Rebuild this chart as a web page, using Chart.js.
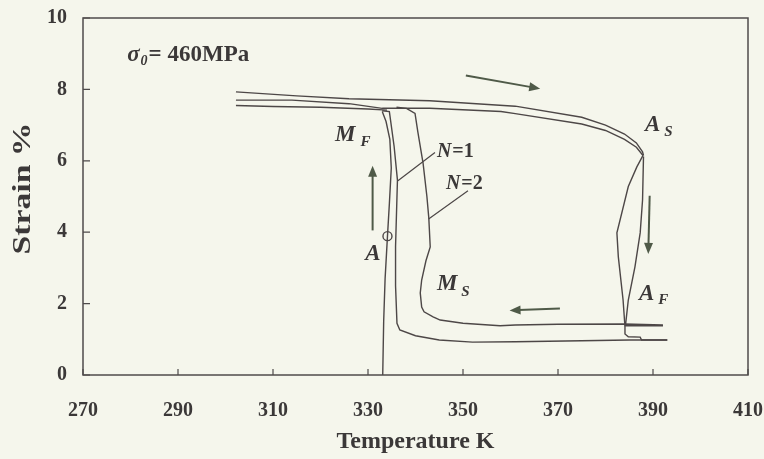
<!DOCTYPE html>
<html>
<head>
<meta charset="utf-8">
<script src="https://cdn.jsdelivr.net/npm/chart.js@4.4.1/dist/chart.umd.min.js"></script>
<style>
  html, body { margin: 0; padding: 0; background: #f5f6ec; }
  #wrap { width: 764px; height: 459px; }
</style>
</head>
<body>
<div id="wrap"><canvas id="c" width="764" height="459"></canvas></div>
<script>
// ---- data (Temperature K, Strain %) ----
const xTicks = [270, 290, 310, 330, 350, 370, 390, 410];
const yTicks = [0, 2, 4, 6, 8, 10];

const loadT = [333.1, 333.3, 333.6, 334.1, 334.5, 334.9, 334.6, 333.8, 333.0];
const loadS = [0.0, 1.5, 2.7, 3.89, 4.8, 5.8, 6.6, 7.1, 7.38];

const topUpperT = [302.2, 315, 326, 343, 361, 375, 380, 384, 386.5, 387.8, 388.0];
const topUpperS = [7.93, 7.82, 7.74, 7.68, 7.53, 7.22, 7.00, 6.75, 6.50, 6.25, 6.15];

const topLowerT = [302.2, 314, 326, 333, 343, 358, 361, 375, 380, 384, 386.5, 387.9];
const topLowerS = [7.70, 7.70, 7.60, 7.47, 7.47, 7.38, 7.32, 7.03, 6.85, 6.60, 6.38, 6.15];

const topThirdT = [302.2, 310, 320, 330, 334];
const topThirdS = [7.55, 7.52, 7.50, 7.45, 7.42];

const drop1T = [387.9, 386.6, 384.8, 382.4, 382.7, 383.7, 384.1, 384.1, 384.8, 387.3, 387.6, 393.0];
const drop1S = [6.15, 5.83, 5.28, 3.98, 3.31, 2.10, 1.35, 1.15, 1.07, 1.06, 0.98, 0.98];

const drop2T = [388.0, 387.8, 387.3, 386.2, 384.8, 384.3, 384.2, 392.1];
const drop2S = [6.12, 4.90, 3.98, 3.03, 2.10, 1.50, 1.38, 1.38];

const cool1T = [393.0, 385, 375, 361, 352, 345, 340, 336.7, 336.1, 335.8, 335.8, 336.2, 335.5, 334.5, 333.0];
const cool1S = [0.98, 0.98, 0.96, 0.93, 0.92, 0.98, 1.10, 1.26, 1.45, 2.50, 3.60, 5.46, 6.40, 7.38, 7.40];

const cool2T = [392.1, 384, 370, 361, 357.8, 350, 345.2, 343.7, 341.8, 341.3, 341.0, 341.3, 342.2, 343.1, 342.8, 342.4, 341.6, 340.5, 339.9, 338.1, 336.0];
const cool2S = [1.40, 1.43, 1.42, 1.40, 1.38, 1.45, 1.54, 1.63, 1.77, 1.90, 2.30, 2.66, 3.20, 3.59, 4.40, 5.00, 5.93, 6.80, 7.33, 7.47, 7.50];

const pointA_T = [334.1];
const pointA_S = [3.89];

// ---- helpers ----
const LINE = '#4d4747';
const TXT = '#3b3838';
const ARROW = '#4f5a48';
const SERIF = '"Liberation Serif", "Times New Roman", serif';

function pts(xs, ys) { return xs.map((x, i) => ({ x: x, y: ys[i] })); }
function line(xs, ys) {
  return { data: pts(xs, ys), showLine: true, borderColor: LINE, borderWidth: 1.4,
           pointRadius: 0, fill: false, tension: 0 };
}

const bgPlugin = {
  id: 'bg',
  beforeDraw(chart) {
    const ctx = chart.ctx;
    ctx.save();
    ctx.fillStyle = '#f5f6ec';
    ctx.fillRect(0, 0, chart.width, chart.height);
    ctx.restore();
  }
};

const framePlugin = {
  id: 'frame',
  afterDraw(chart) {
    const { ctx, chartArea: a, scales } = chart;
    ctx.save();
    ctx.strokeStyle = '#4f4b4b';
    ctx.lineWidth = 1.5;
    ctx.strokeRect(a.left, a.top, a.right - a.left, a.bottom - a.top);
    ctx.lineWidth = 1.2;
    ctx.beginPath();
    xTicks.forEach(v => {
      const px = scales.x.getPixelForValue(v);
      ctx.moveTo(px, a.bottom); ctx.lineTo(px, a.bottom - 6);
    });
    yTicks.forEach(v => {
      const py = scales.y.getPixelForValue(v);
      ctx.moveTo(a.left, py); ctx.lineTo(a.left + 7, py);
    });
    ctx.stroke();

    // y-axis title (stretched along its length like the reference)
    ctx.fillStyle = TXT;
    ctx.font = 'bold 25px ' + SERIF;
    ctx.textAlign = 'center';
    ctx.textBaseline = 'middle';
    ctx.translate(24, (a.top + a.bottom) / 2 - 8);
    ctx.rotate(-Math.PI / 2);
    ctx.scale(1.35, 1);
    ctx.fillText('Strain %', 0, 0);
    ctx.restore();
  }
};

const annoPlugin = {
  id: 'anno',
  afterDatasetsDraw(chart) {
    const { ctx, scales } = chart;
    const X = v => scales.x.getPixelForValue(v);
    const Y = v => scales.y.getPixelForValue(v);
    ctx.save();
    ctx.fillStyle = TXT;
    ctx.textBaseline = 'alphabetic';
    ctx.textAlign = 'left';

    // sigma label
    let x = X(279.3), y = Y(8.80);
    ctx.font = 'italic bold 23px ' + SERIF;
    ctx.fillText('σ', x, y);
    x += ctx.measureText('σ').width + 1;
    ctx.font = 'italic bold 14px ' + SERIF;
    ctx.fillText('0', x, y + 4);
    x += ctx.measureText('0').width + 1;
    ctx.font = 'bold 23px ' + SERIF;
    ctx.fillText('= 460MPa', x, y);

    function sub(main, s, T, S, dx, dy) {
      const px = X(T), py = Y(S);
      ctx.font = 'italic bold 23px ' + SERIF;
      ctx.fillText(main, px, py);
      const w = ctx.measureText(main).width;
      ctx.font = 'italic bold 15px ' + SERIF;
      ctx.fillText(s, px + w + dx, py + dy);
    }
    sub('M', 'F', 323.05, 6.55, 5, 5);
    sub('A', 'S', 388.3, 6.83, 4, 5);
    sub('M', 'S', 344.5, 2.38, 4, 6);
    sub('A', 'F', 387.05, 2.10, 4, 4);

    ctx.font = 'italic bold 23px ' + SERIF;
    ctx.fillText('A', X(329.4), Y(3.22));

    function nlab(n, T, S) {
      const px = X(T), py = Y(S);
      ctx.font = 'italic bold 20px ' + SERIF;
      ctx.fillText('N', px, py);
      const w = ctx.measureText('N').width;
      ctx.font = 'bold 20px ' + SERIF;
      ctx.fillText('=' + n, px + w + 1, py);
    }
    nlab('1', 344.5, 6.11);
    nlab('2', 346.4, 5.21);

    // leader lines
    ctx.strokeStyle = LINE;
    ctx.lineWidth = 1.2;
    ctx.beginPath();
    ctx.moveTo(X(344.1), Y(6.23)); ctx.lineTo(X(336.3), Y(5.44));
    ctx.moveTo(X(351.05), Y(5.16)); ctx.lineTo(X(342.76), Y(4.37));
    ctx.stroke();

    // arrows
    function arrow(T1, S1, T2, S2) {
      const x1 = X(T1), y1 = Y(S1), x2 = X(T2), y2 = Y(S2);
      const ang = Math.atan2(y2 - y1, x2 - x1);
      const L = 11, W = 4.5;
      ctx.strokeStyle = ARROW;
      ctx.fillStyle = ARROW;
      ctx.lineWidth = 2;
      ctx.beginPath();
      ctx.moveTo(x1, y1);
      ctx.lineTo(x2 - Math.cos(ang) * (L - 2), y2 - Math.sin(ang) * (L - 2));
      ctx.stroke();
      ctx.beginPath();
      ctx.moveTo(x2, y2);
      ctx.lineTo(x2 - Math.cos(ang) * L - Math.sin(ang) * W, y2 - Math.sin(ang) * L + Math.cos(ang) * W);
      ctx.lineTo(x2 - Math.cos(ang) * L + Math.sin(ang) * W, y2 - Math.sin(ang) * L - Math.cos(ang) * W);
      ctx.closePath();
      ctx.fill();
    }
    arrow(350.6, 8.39, 366.25, 8.02);
    arrow(330.97, 4.05, 330.97, 5.86);
    arrow(389.3, 5.02, 389.0, 3.39);
    arrow(370.4, 1.86, 359.8, 1.81);
    ctx.restore();
  }
};

const datasets = [
  line(loadT, loadS),
  line(topUpperT, topUpperS),
  line(topLowerT, topLowerS),
  line(topThirdT, topThirdS),
  line(drop1T, drop1S),
  line(drop2T, drop2S),
  line(cool1T, cool1S),
  line(cool2T, cool2S),
  { data: pts(pointA_T, pointA_S), showLine: false, pointRadius: 4.5,
    pointBackgroundColor: '#f5f6ec', pointBorderColor: LINE, pointBorderWidth: 1.4 }
];

new Chart(document.getElementById('c'), {
  type: 'scatter',
  data: { datasets: datasets },
  options: {
    responsive: false,
    animation: false,
    events: [],
    layout: { padding: { top: 18, right: 16, left: 0, bottom: 0 } },
    plugins: { legend: { display: false }, tooltip: { enabled: false } },
    scales: {
      x: {
        type: 'linear', min: 270, max: 410,
        afterBuildTicks(s) { s.ticks = xTicks.map(v => ({ value: v })); },
        afterFit(s) { s.height = 84; s.paddingLeft = 0; s.paddingRight = 0; },
        grid: { display: false, drawTicks: false },
        border: { display: false },
        ticks: { color: TXT, padding: 24, font: { family: SERIF, size: 20, weight: 'bold' } },
        title: { display: true, text: 'Temperature K', color: TXT, padding: { top: 4, bottom: 3 },
                 font: { family: SERIF, size: 24, weight: 'bold' } }
      },
      y: {
        type: 'linear', min: 0, max: 10,
        afterBuildTicks(s) { s.ticks = yTicks.map(v => ({ value: v })); },
        afterFit(s) { s.width = 83; s.paddingTop = 0; s.paddingBottom = 0; },
        grid: { display: false, drawTicks: false },
        border: { display: false },
        ticks: { color: TXT, padding: 16, font: { family: SERIF, size: 20, weight: 'bold' } },
        title: { display: false }
      }
    }
  },
  plugins: [bgPlugin, framePlugin, annoPlugin]
});
</script>
</body>
</html>
